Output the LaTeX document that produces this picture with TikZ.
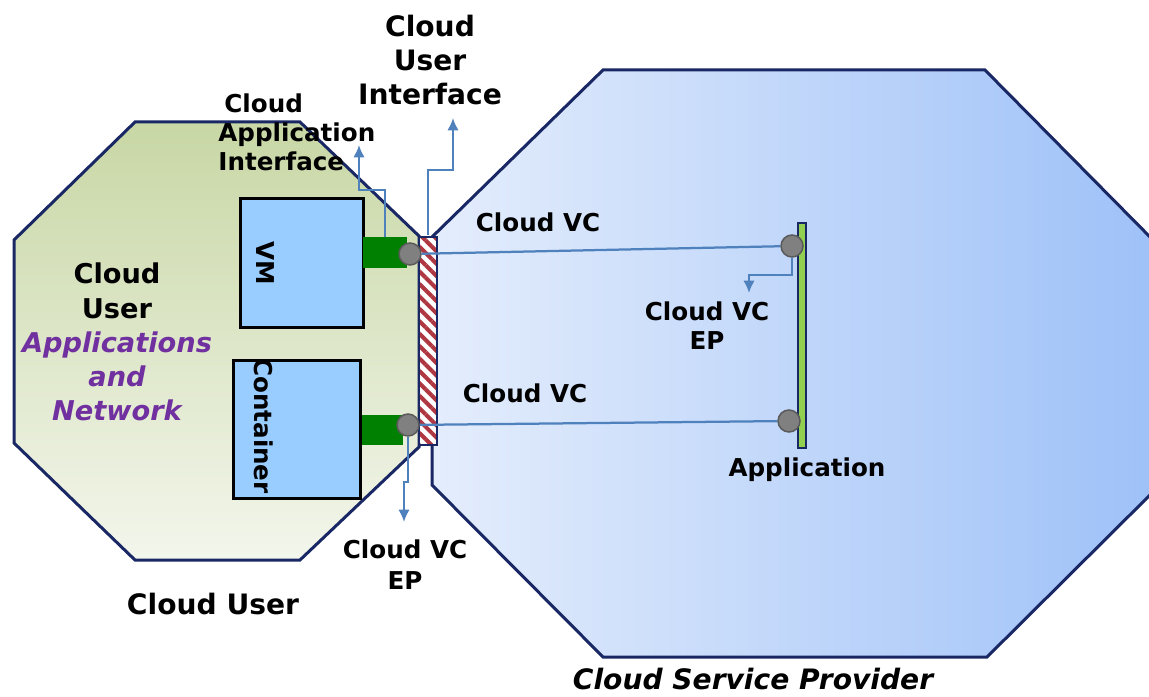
\documentclass[tikz,border=0pt]{standalone}
\usepackage{fontspec}
\setmainfont{DejaVu Sans}
\usepackage{tikz}
\usetikzlibrary{
  calc, patterns.meta,
  shapes, backgrounds, arrows.meta
}

\definecolor{navy}{RGB}{25,40,100}
\definecolor{usertop}{RGB}{200,215,165}
\definecolor{userbot}{RGB}{243,246,236}
\definecolor{cspleft}{RGB}{228,237,252}
\definecolor{cspright}{RGB}{158,193,248}
\definecolor{boxblue}{RGB}{153,204,255}
\definecolor{plugreen}{RGB}{0,128,0}
\definecolor{epgray}{RGB}{128,128,128}
\definecolor{linkblue}{RGB}{79,129,189}
\definecolor{stripe}{RGB}{175,55,65}
\definecolor{appgreen}{RGB}{146,208,80}
\definecolor{appurple}{RGB}{112,48,160}

\begin{document}
\begin{tikzpicture}[x=0.2mm, y=-0.2mm]
  %[background rectangle/.style={fill=white}, show background rectangle]
  \tikzstyle{octline}=[draw=navy, line width=0.6mm, line join=miter]
  \tikzstyle{hostbox}=[draw=black, fill=boxblue, line width=0.6mm, inner sep=0pt]
  \tikzstyle{plug}=[fill=plugreen, inner sep=0pt]
  \tikzstyle{ep}=[circle, fill=epgray, draw=epgray!70!black, line width=0.3mm, minimum size=4.4mm, inner sep=0pt]
  \tikzstyle{vcline}=[draw=linkblue, line width=0.45mm]
  \tikzstyle{vcarrow}=[vcline, -{Latex[length=7pt,width=6.5pt]}]
  \tikzstyle{lbl}=[font=\fontsize{14}{16.5}\selectfont\bfseries, align=center, inner sep=0pt]
  \tikzstyle{biglbl}=[font=\fontsize{16}{19.5}\selectfont\bfseries, align=center, inner sep=0pt]

  \pgfmathsetmacro{\barx}{428}
  \pgfmathsetmacro{\appx}{801.5}

  \useasboundingbox (0,0) rectangle (1149,697);

  % cloud user
  \path[octline, top color=usertop, bottom color=userbot]
    (135,122) -- (300,122) -- (419,236) -- (419,447) -- (300,560) -- (135,560) -- (14,443) -- (14,240) -- cycle;
  % cloud service provider
  \path[octline, left color=cspleft, right color=cspright]
    (603,70) -- (985,70) -- (1153,240) -- (1153,492) -- (987,657) -- (603,657) -- (432,485) -- (432,237) -- cycle;

  \node (vm) [hostbox, minimum width=24.6mm, minimum height=25.6mm] at (301.5,263) {};
  \node (container) [hostbox, minimum width=25.4mm, minimum height=27.4mm] at (296.5,429.5) {};
  \node (vmtxt) [lbl, rotate=-90] at (265,263) {VM};
  \node (contxt) [lbl, rotate=-90] at (264,426) {Container};

  \node (vmplug) [plug, minimum width=8.8mm, minimum height=6.2mm] at (385,252.5) {};
  \node (conplug) [plug, minimum width=8.2mm, minimum height=6mm] at (382.5,430) {};

  \node (ifbar) [draw=navy, line width=0.45mm, minimum width=3.6mm, minimum height=41.6mm, inner sep=0pt,
    preaction={fill=white}, pattern={Lines[angle=-45,distance=5pt,line width=2.3pt]}, pattern color=stripe] at (\barx,341) {};
  \node (appbar) [draw=navy, fill=appgreen, line width=0.4mm, minimum width=1.6mm, minimum height=45mm, inner sep=0pt] at (\appx,335.5) {};

  \node (vmep) [ep] at (410,254) {};
  \node (conep) [ep] at (408,425) {};
  \node (apptop) [ep] at (792,246) {};
  \node (appbot) [ep] at (789,421) {};

  \foreach \a/\b in {vmep/apptop, conep/appbot}
    \draw[vcline] (\a) -- (\b);

  \coordinate (caitip) at (359,145);
  \coordinate (cuitip) at (453,118);
  \coordinate (epbtip) at (404,522);
  \coordinate (eprtip) at (749,293);
  \draw[vcarrow] (vmplug.north) -- ++(0,-47) -| (caitip);
  \draw[vcarrow] (ifbar.north) -- ++(0,-65) -| (cuitip);
  \draw[vcarrow] (conep.south) -- ++(0,45) -| (epbtip);
  \draw[vcarrow] (apptop.south) -- ++(0,17) -| (eprtip);

  \node (cuitxt) [biglbl] at (430,60) {Cloud\\User\\Interface};
  \node (caitxt) [lbl, align=left, anchor=west] at (218,132) {\hspace{1.2mm}Cloud\\Application\\Interface};
  \node (usertxt) [font=\fontsize{15.5}{19.4}\selectfont\bfseries, align=center] at (117,342)
    {Cloud\\User\\\textcolor{appurple}{\itshape Applications}\\\textcolor{appurple}{\itshape and}\\\textcolor{appurple}{\itshape Network}};
  \node (usercap) [biglbl] at (213,604) {Cloud User};
  \node (cspcap) [biglbl, font=\fontsize{16}{19.5}\selectfont\bfseries\itshape] at (753,679) {Cloud Service Provider};
  \node (vctop) [lbl] at (538,222) {Cloud VC};
  \node (vcbot) [lbl] at (525,393) {Cloud VC};
  \node (eprtxt) [lbl] at (707,326) {Cloud VC\\EP};
  \node (epbtxt) [lbl, font=\fontsize{14}{17.5}\selectfont\bfseries] at (405,565) {Cloud VC\\EP};
  \node (apptxt) [lbl] at (807,470) {Application};

\end{tikzpicture}
\end{document}
